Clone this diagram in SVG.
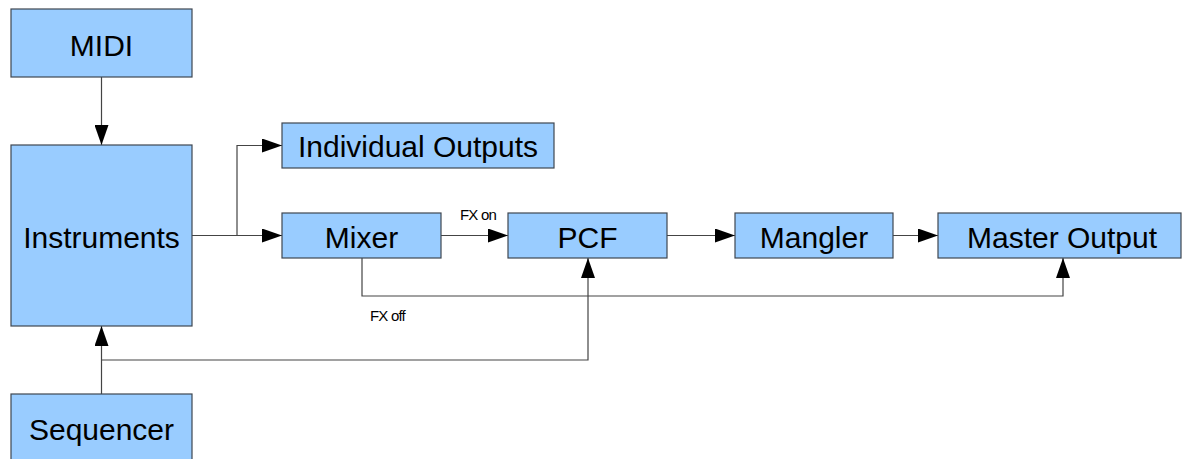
<svg xmlns="http://www.w3.org/2000/svg" width="1182" height="459" viewBox="0 0 1182 459">
<style>
.box{fill:#99ccff;stroke:#3f4650;stroke-width:1.2}
.lbl{font-family:"Liberation Sans",Arial,sans-serif;font-size:30px;fill:#000;text-anchor:middle}
.sm{font-family:"Liberation Sans",Arial,sans-serif;font-size:15px;fill:#000;letter-spacing:-0.8px}
.con{fill:none;stroke:#444;stroke-width:1.2}
.arr{marker-end:url(#ah)}
</style>
<defs>
<marker id="ah" viewBox="0 0 20 14" refX="20" refY="7" markerWidth="20" markerHeight="14" markerUnits="userSpaceOnUse" orient="auto">
<path d="M0,0 L20,7 L0,14 Z" fill="#000"/>
</marker>
</defs>
<rect width="1182" height="459" fill="#fff"/>
<g id="connectors">
<path class="con arr" d="M101.5,77 V145"/>
<path class="con arr" d="M192,235.5 H237 V145.5 H282"/>
<path class="con arr" d="M237,235.5 H282"/>
<path class="con arr" d="M441,235.5 H508"/>
<path class="con arr" d="M667,235.5 H735"/>
<path class="con arr" d="M893,235.5 H938"/>
<path class="con arr" d="M362,258 V296 H1063 V258"/>
<path class="con arr" d="M101.5,394 V326"/>
<path class="con arr" d="M101.5,360 H588 V258"/>
<text class="sm" x="460" y="220">FX on</text>
<text class="sm" x="370" y="321">FX off</text>
</g>
<g id="midi"><rect class="box" x="11" y="9" width="181" height="68"/><text class="lbl" x="101.5" y="56">MIDI</text></g>
<g id="instruments"><rect class="box" x="11" y="145" width="181" height="181"/><text class="lbl" x="101.5" y="248">Instruments</text></g>
<g id="sequencer"><rect class="box" x="11" y="394" width="181" height="70"/><text class="lbl" x="101.5" y="440">Sequencer</text></g>
<g id="individual-outputs"><rect class="box" x="282" y="123" width="272" height="45"/><text class="lbl" x="418" y="157">Individual Outputs</text></g>
<g id="mixer"><rect class="box" x="282" y="213" width="159" height="45"/><text class="lbl" x="361.5" y="248">Mixer</text></g>
<g id="pcf"><rect class="box" x="508" y="213" width="159" height="45"/><text class="lbl" x="587.5" y="248">PCF</text></g>
<g id="mangler"><rect class="box" x="735" y="213" width="158" height="45"/><text class="lbl" x="814" y="248">Mangler</text></g>
<g id="master-output"><rect class="box" x="938" y="213" width="243" height="45"/><text class="lbl" x="1062" y="248">Master Output</text></g>
</svg>
